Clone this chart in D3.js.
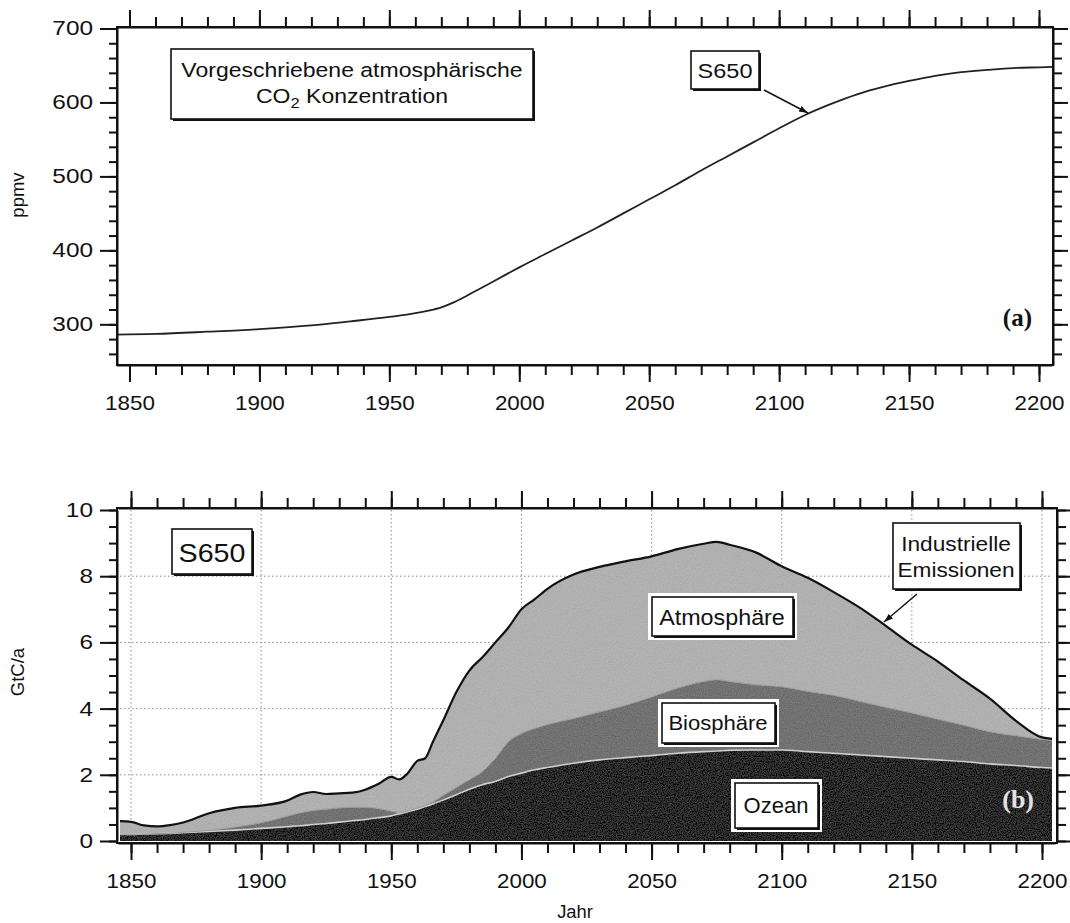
<!DOCTYPE html>
<html><head><meta charset="utf-8">
<script src="https://cdn.jsdelivr.net/npm/d3@7"></script>
<style>
body{margin:0;background:#fff;}
svg text{font-family:"Liberation Sans",Arial,Helvetica,sans-serif;fill:#111;}
</style>
</head><body>
<svg id="chart" width="1070" height="923"></svg>
<script>
// ---------- DATA ----------
const co2Years  = [1845,1860,1880,1900,1920,1935,1950,1960,1965,1970,1975,1980,1985,1990,1995,2000,2010,2020,2030,2040,2050,2060,2070,2080,2090,2100,2110,2120,2130,2140,2150,2160,2170,2180,2190,2200,2205];
const co2Values = [286, 287, 290, 293.5,298.5,304,310, 315, 318.5,323, 330, 339, 348.5,358, 367.5,377, 395, 413, 431, 450, 469, 488, 508, 527, 546, 565, 583, 598, 611, 621, 629, 636, 641, 644, 646.5,647.5,648];

const fluxYears = [1845,1850,1855,1860,1865,1870,1880,1890,1900,1910,1915,1920,1925,1930,1935,1940,1945,1950,1953,1956,1960,1963,1966,1970,1975,1980,1985,1990,1995,2000,2005,2010,2020,2030,2040,2050,2060,2070,2075,2080,2090,2100,2110,2120,2130,2140,2150,2160,2170,2180,2190,2200,2205];
const oceanUptake      = [0.20,0.20,0.21,0.22,0.23,0.25,0.29,0.33,0.38,0.43,0.46,0.50,0.53,0.57,0.61,0.65,0.70,0.76,0.82,0.88,0.96,1.04,1.12,1.24,1.40,1.56,1.70,1.80,1.95,2.05,2.15,2.22,2.35,2.45,2.52,2.58,2.65,2.70,2.72,2.74,2.75,2.75,2.70,2.65,2.60,2.55,2.50,2.45,2.40,2.33,2.28,2.22,2.20];
const biosphereUptake  = [0.00,0.00,0.00,0.00,0.00,0.01,0.03,0.09,0.17,0.32,0.39,0.42,0.43,0.43,0.41,0.37,0.28,0.14,0.04,0.02,0.04,0.03,0.06,0.14,0.22,0.29,0.40,0.70,1.05,1.20,1.25,1.30,1.35,1.45,1.58,1.77,1.97,2.12,2.15,2.08,1.97,1.91,1.82,1.75,1.62,1.49,1.37,1.23,1.10,0.97,0.90,0.85,0.83];
const atmosphereIncrease=[0.40,0.38,0.26,0.22,0.25,0.30,0.52,0.58,0.52,0.47,0.55,0.56,0.46,0.44,0.44,0.53,0.74,1.04,1.00,1.12,1.42,1.43,1.82,2.27,2.88,3.30,3.45,3.50,3.45,3.75,3.90,4.10,4.35,4.38,4.35,4.25,4.20,4.16,4.17,4.13,4.00,3.64,3.43,3.12,2.83,2.46,2.06,1.74,1.35,1.00,0.45,0.06,0.05];

const yearTicks  = [1850,1900,1950,2000,2050,2100,2150,2200];
const yearMinor  = d3.range(1850, 2201, 10);
const ppmvTicks  = [300,400,500,600,700];
const ppmvMinor  = d3.range(260, 701, 20);
const gtcTicks   = [0,2,4,6,8,10];
const gtcMinor   = d3.range(0, 10.01, 0.5);
const layerNames = ["Ozean","Biosphäre","Atmosphäre"];

// ---------- SETUP ----------
const svg = d3.select("#chart");
const SX = 1.12;   // horizontal stretch of x tick lettering
const SY = 1.22;   // horizontal stretch of y tick lettering

function stext(g, x, y, str, size, stretch, anchor, extra){
  const t = g.append("text")
    .attr("transform", `translate(${x},${y}) scale(${stretch},1)`)
    .attr("text-anchor", anchor || "middle")
    .style("font-size", size + "px")
    .text(str);
  if (extra) extra(t);
  return t;
}

function styleAxis(g, orient, labelSize){
  g.select(".domain").attr("stroke", "#111").attr("stroke-width", 2);
  g.selectAll(".tick line").attr("stroke", "#111").attr("stroke-width", 2);
  const txt = g.selectAll(".tick text").style("font-size", labelSize + "px").attr("fill", "#111")
    .style("font-family", '"Liberation Sans",Arial,sans-serif');
  if (orient === "bottom") txt.attr("transform", `scale(${SX},1)`);
  if (orient === "left") {
    txt.each(function(){
      const el = d3.select(this);
      el.attr("x", +el.attr("x") / SY).attr("transform", `scale(${SY},1)`);
    });
  }
}

function drawAxes(x, y, frame, yTicks, yMinor, yFmt){
  const {l, r, t, b} = frame;
  const gb = svg.append("g").attr("transform", `translate(0,${b})`);
  gb.call(d3.axisBottom(x).tickValues(yearMinor).tickSize(10).tickSizeOuter(0).tickFormat(""));
  styleAxis(gb);
  const gb2 = svg.append("g").attr("transform", `translate(0,${b})`);
  gb2.call(d3.axisBottom(x).tickValues(yearTicks).tickSize(17).tickSizeOuter(0).tickPadding(14).tickFormat(d3.format("d")));
  gb2.select(".domain").remove();
  styleAxis(gb2, "bottom", 20);
  const gt = svg.append("g").attr("transform", `translate(0,${t})`);
  gt.call(d3.axisTop(x).tickValues(yearMinor).tickSize(10).tickSizeOuter(0).tickFormat(""));
  styleAxis(gt);
  const gt2 = svg.append("g").attr("transform", `translate(0,${t})`);
  gt2.call(d3.axisTop(x).tickValues(yearTicks).tickSize(17).tickSizeOuter(0).tickFormat(""));
  gt2.select(".domain").remove(); styleAxis(gt2);
  const gl = svg.append("g").attr("transform", `translate(${l},0)`);
  gl.call(d3.axisLeft(y).tickValues(yMinor).tickSize(8).tickSizeOuter(0).tickFormat(""));
  styleAxis(gl);
  const gl2 = svg.append("g").attr("transform", `translate(${l},0)`);
  gl2.call(d3.axisLeft(y).tickValues(yTicks).tickSize(17).tickSizeOuter(0).tickPadding(7).tickFormat(yFmt));
  gl2.select(".domain").remove();
  styleAxis(gl2, "left", 20);
  const gr = svg.append("g").attr("transform", `translate(${r},0)`);
  gr.call(d3.axisRight(y).tickValues(yMinor).tickSize(9).tickSizeOuter(0).tickFormat(""));
  styleAxis(gr);
  const gr2 = svg.append("g").attr("transform", `translate(${r},0)`);
  gr2.call(d3.axisRight(y).tickValues(yTicks).tickSize(15).tickSizeOuter(0).tickFormat(""));
  gr2.select(".domain").remove(); styleAxis(gr2);
  svg.append("path").attr("d", `M${l},${t}H${r}V${b}H${l}Z`).attr("fill","none").attr("stroke","#111").attr("stroke-width",2);
}

function labelBox(g, x, y, w, h, halo){
  if (halo) g.append("rect").attr("x", x-4).attr("y", y-4).attr("width", w+8).attr("height", h+8).attr("fill", "#fff");
  g.append("rect").attr("x", x+2).attr("y", y+2).attr("width", w).attr("height", h).attr("fill", "#111");
  g.append("rect").attr("x", x).attr("y", y).attr("width", w).attr("height", h).attr("fill", "#fff").attr("stroke", "#111").attr("stroke-width", 1.6);
}

const defs = svg.append("defs");
defs.append("marker").attr("id","arr").attr("viewBox","0 0 10 10").attr("refX",10).attr("refY",5)
  .attr("markerWidth",9).attr("markerHeight",9).attr("orient","auto-start-reverse").attr("markerUnits","userSpaceOnUse")
  .append("path").attr("d","M0,1.5L10,5L0,8.5Z").attr("fill","#111");

// grain filter to imitate the print texture
const flt = defs.append("filter").attr("id","grain").attr("x",0).attr("y",0).attr("width","100%").attr("height","100%");
flt.append("feTurbulence").attr("type","fractalNoise").attr("baseFrequency",0.85).attr("numOctaves",2).attr("seed",4).attr("result","noise");
flt.append("feColorMatrix").attr("in","noise").attr("type","matrix")
  .attr("values","0.33 0.33 0.33 0 0  0.33 0.33 0.33 0 0  0.33 0.33 0.33 0 0  0 0 0 0 1").attr("result","gray");
flt.append("feComposite").attr("in","SourceGraphic").attr("in2","gray").attr("operator","arithmetic")
  .attr("k1",0).attr("k2",1).attr("k3",0.22).attr("k4",-0.11).attr("result","mix");
flt.append("feComposite").attr("in","mix").attr("in2","SourceGraphic").attr("operator","in");

// ---------- PANEL (a) ----------
const xA = d3.scaleLinear().domain([1845, 2205]).range([116.5, 1052]);
const yA = d3.scaleLinear().domain([245, 702]).range([365, 27]);
const co2 = co2Years.map((yr, i) => ({year: yr, v: co2Values[i]}));

svg.append("path").datum(co2)
  .attr("d", d3.line().x(d => xA(d.year)).y(d => yA(d.v)).curve(d3.curveMonotoneX))
  .attr("fill","none").attr("stroke","#222").attr("stroke-width",1.8);

drawAxes(xA, yA, {l:117, r:1053, t:27, b:365}, ppmvTicks, ppmvMinor, d3.format("d"));

stext(svg, 24, 195, "ppmv", 18.5, 1.0, "middle", t => t.attr("transform","translate(24,195) rotate(-90)"));

const ga = svg.append("g");
labelBox(ga, 171, 49, 362, 70, false);
stext(ga, 352, 77, "Vorgeschriebene atmosphärische", 19.5, 1.18, "middle");
stext(ga, 352, 103, "", 19.5, 1.18, "middle", t => {
  t.append("tspan").text("CO");
  t.append("tspan").attr("dy", 5).style("font-size","14px").text("2");
  t.append("tspan").attr("dy", -5).text(" Konzentration");
});
labelBox(ga, 691, 51, 68, 38, false);
stext(ga, 725, 78, "S650", 21, 1.12, "middle");
ga.append("line").attr("x1",764).attr("y1",90).attr("x2",808).attr("y2",113)
  .attr("stroke","#111").attr("stroke-width",1.5).attr("marker-end","url(#arr)");
svg.append("text").attr("x",1032).attr("y",326).attr("text-anchor","end")
  .style("font-family",'"Liberation Serif","Times New Roman",serif').style("font-weight","bold").style("font-size","25px").text("(a)");

// ---------- PANEL (b) ----------
const xB = d3.scaleLinear().domain([1845, 2205]).range([118, 1055]);
const yB = d3.scaleLinear().domain([0, 10]).range([841, 510]);
const plot = {l:120, r:1052, t:510, b:841};

defs.append("clipPath").attr("id","clipB").append("rect")
  .attr("x",plot.l).attr("y",plot.t).attr("width",plot.r-plot.l).attr("height",plot.b-plot.t);

const grid = svg.append("g").attr("stroke","#8a8a8a").attr("stroke-width",1).attr("stroke-dasharray","1.5,2.5");
grid.selectAll("line.v").data(yearTicks).join("line")
  .attr("x1", d => xB(d)).attr("x2", d => xB(d)).attr("y1", plot.t).attr("y2", plot.b);
grid.selectAll("line.h").data(gtcTicks.filter(d => d > 0 && d < 10)).join("line")
  .attr("x1", plot.l).attr("x2", plot.r).attr("y1", d => yB(d)).attr("y2", d => yB(d));

const rows = fluxYears.map((yr, i) => ({year: yr, "Ozean": oceanUptake[i], "Biosphäre": biosphereUptake[i], "Atmosphäre": atmosphereIncrease[i]}));
const stacked = d3.stack().keys(layerNames)(rows);
const fills = {"Ozean":"#2a2a2a","Biosphäre":"#727272","Atmosphäre":"#b0b0b0"};
const area = d3.area().x(d => xB(d.data.year)).y0(d => yB(d[0])).y1(d => yB(d[1])).curve(d3.curveMonotoneX);
const lineTop = d3.line().x(d => xB(d.data.year)).y(d => yB(d[1])).curve(d3.curveMonotoneX);

const gArea = svg.append("g").attr("clip-path","url(#clipB)");
const gFill = gArea.append("g").attr("filter","url(#grain)");
gFill.selectAll("path.layer").data(stacked).join("path")
  .attr("d", area).attr("fill", d => fills[d.key]);
gArea.append("path").datum(stacked[0]).attr("d", lineTop).attr("fill","none").attr("stroke","#cfcfcf").attr("stroke-width",1.6);
gArea.append("path").datum(stacked[1]).attr("d", lineTop).attr("fill","none").attr("stroke","#9a9a9a").attr("stroke-width",1);
gArea.append("path").datum(stacked[2]).attr("d", lineTop).attr("fill","none").attr("stroke","#111").attr("stroke-width",2.2);

drawAxes(xB, yB, {l:117, r:1057, t:508, b:843}, gtcTicks, gtcMinor, d3.format("d"));

stext(svg, 24, 672, "GtC/a", 18.5, 1.0, "middle", t => t.attr("transform","translate(24,672) rotate(-90)"));
stext(svg, 575, 918, "Jahr", 17.5, 1.05, "middle");

const gb = svg.append("g");
labelBox(gb, 172, 529, 80, 45, false);
stext(gb, 212, 562, "S650", 26, 1.1, "middle");

labelBox(gb, 893, 523, 127, 66, false);
stext(gb, 956, 551, "Industrielle", 21, 1.08, "middle");
stext(gb, 956, 577, "Emissionen", 21, 1.08, "middle");
gb.append("line").attr("x1",917).attr("y1",594).attr("x2",884).attr("y2",622)
  .attr("stroke","#111").attr("stroke-width",1.5).attr("marker-end","url(#arr)");

labelBox(gb, 652, 597, 141, 39, true);
stext(gb, 722, 625, "Atmosphäre", 22, 1.06, "middle");
labelBox(gb, 662, 703, 113, 40, true);
stext(gb, 718, 730, "Biosphäre", 21, 1.05, "middle");
labelBox(gb, 735, 783, 83, 45, true);
stext(gb, 776, 813, "Ozean", 22, 1.0, "middle");

svg.append("text").attr("x",1034).attr("y",808).attr("text-anchor","end")
  .style("font-family",'"Liberation Serif","Times New Roman",serif').style("font-weight","bold").style("font-size","26px")
  .style("fill","#e2e2e2").text("(b)");
</script>
</body></html>
